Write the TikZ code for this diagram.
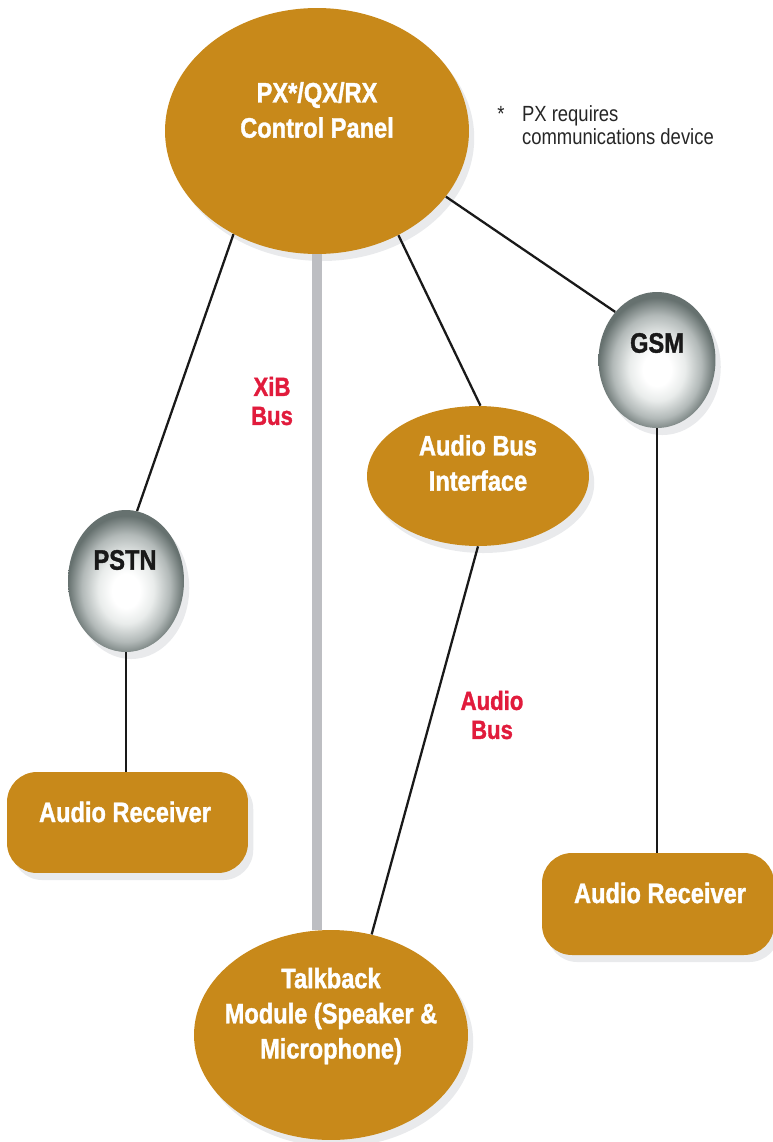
\documentclass[tikz,border=0pt]{standalone}
\usepackage{fontspec}
\setmainfont{Liberation Sans}[FakeStretch=0.84, BoldFeatures={FakeBold=1.3}]
\usetikzlibrary{shapes,shadows}

\definecolor{gold}{HTML}{C8891A}
\definecolor{eggedge}{HTML}{66716F}
\definecolor{eggmid}{HTML}{B2B9B8}
\definecolor{egglight}{HTML}{E9ECEB}
\definecolor{busred}{HTML}{E11B3C}
\definecolor{busgray}{HTML}{BDBEC2}
\definecolor{shadowgray}{HTML}{D3D6D9}

\pgfdeclareradialshading{egg}{\pgfpoint{0bp}{-4bp}}{color(0bp)=(white); color(6bp)=(white); color(12bp)=(egglight); color(19bp)=(eggmid); color(25bp)=(eggedge); color(50bp)=(eggedge)}

\tikzset{
  goldshape/.style={ellipse, fill=gold, inner sep=0pt,
    drop shadow={shadow xshift=3pt, shadow yshift=-4pt, fill=shadowgray}},
  eggshape/.style={ellipse, shading=egg, inner sep=0pt,
    drop shadow={shadow xshift=3pt, shadow yshift=-4pt, fill=shadowgray}},
  recvbox/.style={rectangle, rounded corners=0.6cm, fill=gold, inner sep=0pt,
    drop shadow={shadow xshift=3pt, shadow yshift=-4pt, fill=shadowgray}},
  boxtext/.style={text=white, font=\bfseries\fontsize{16}{20}\selectfont, align=center, inner sep=0pt},
  eggtext/.style={text=black!90, font=\bfseries\fontsize{16}{20}\selectfont, inner sep=0pt},
  buslabel/.style={text=busred, font=\bfseries\fontsize{15}{16.5}\selectfont, align=center, inner sep=0pt},
  notetext/.style={text=black!85, font=\fontsize{12.5}{13.3}\selectfont, align=left, inner sep=0pt},
  link/.style={line width=1.3pt, black!90},
  xibbus/.style={line width=0.2cm, busgray}
}

\begin{document}
\begin{tikzpicture}[x=0.02cm, y=-0.02cm]
  \useasboundingbox (0,0) rectangle (773,1142);

  % shapes
  \node[goldshape, minimum width=6.08cm, minimum height=4.92cm] (cp) at (317,131) {};
  \node[eggshape, minimum width=2.34cm, minimum height=2.72cm] (gsm) at (657,360) {};
  \node[eggshape, minimum width=2.32cm, minimum height=2.84cm] (pstn) at (126,581) {};
  \node[goldshape, minimum width=4.44cm, minimum height=2.80cm] (abi) at (478,476) {};
  \node[recvbox, minimum width=4.82cm, minimum height=2.02cm] (recvL) at (127.5,822.5) {};
  \node[recvbox, minimum width=4.64cm, minimum height=2.04cm] (recvR) at (658,904) {};
  \node[goldshape, minimum width=5.48cm, minimum height=4.20cm] (talk) at (331,1035) {};

  % texts
  \node[boxtext] (cpText) at (317,110) {PX*/QX/RX\\Control Panel};
  \node[eggtext] (gsmText) at (657,343) {GSM};
  \node[eggtext] (pstnText) at (125,560) {PSTN};
  \node[boxtext] (abiText) at (478,463) {Audio Bus\\Interface};
  \node[boxtext] (recvLText) at (125,812) {Audio Receiver};
  \node[boxtext] (recvRText) at (660,893) {Audio Receiver};
  \node[boxtext] (talkText) at (331,1016) {Talkback\\Module (Speaker \&\\Microphone)};
  \node[notetext, anchor=base west] (note) at (497,145) {*\hspace{0.8em}PX requires\\\phantom{*}\hspace{0.8em}communications device};
  \node[buslabel] (xibText) at (272,401) {XiB\\Bus};
  \node[buslabel] (abusText) at (492,715) {Audio\\Bus};

  % connections
  \draw[xibbus] (cp.south) -- (cp.south |- talk.north);
  \draw[link] (cp.231) -- (pstn.81);
  \draw[link] (cp.308) -- (abi.88);
  \draw[link] (cp.333) -- (gsm.131);
  \draw[link] (gsm.south) -- (gsm.south |- recvR.north);
  \draw[link] (pstn.south) -- (pstn.south |- recvL.north);
  \draw[link] (abi.south) -- (talk.68);
\end{tikzpicture}
\end{document}
